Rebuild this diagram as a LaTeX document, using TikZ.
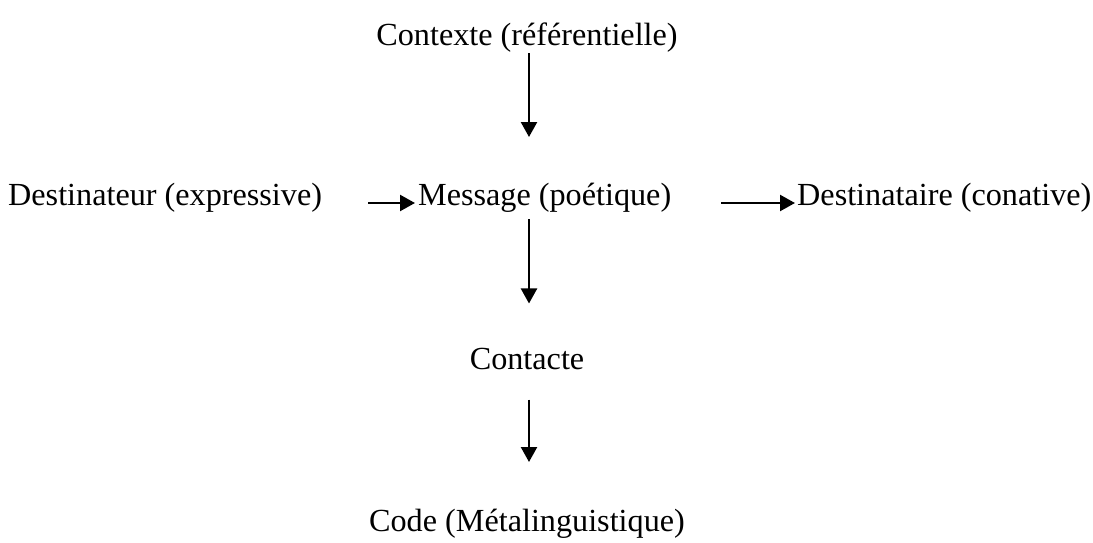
\documentclass[tikz,border=0pt]{standalone}
\usepackage{fontspec}
\setmainfont{Liberation Serif}
\usetikzlibrary{arrows.meta}
\begin{document}
\begin{tikzpicture}[x=1pt,y=-1pt,
  lbl/.style={inner sep=0pt,font=\fontsize{32.2}{38}\selectfont},
  arr/.style={line width=2.3pt,-{Triangle[length=15pt,width=16pt]}}]
\useasboundingbox (0,0) rectangle (1093,543);
\node[lbl,anchor=base] (ctx) at (527,46) {Contexte (référentielle)};
\node[lbl,anchor=base west] (dst) at (8,205) {Destinateur (expressive)};
\node[lbl,anchor=base west] (msg) at (418,205) {Message (poétique)};
\node[lbl,anchor=base west] (dta) at (797,205) {Destinataire (conative)};
\node[lbl,anchor=base] (cta) at (527,369) {Contacte};
\node[lbl,anchor=base] (code) at (527,531) {Code (Métalinguistique)};
\draw[arr] ([xshift=2pt]ctx.south) -- ([xshift=2pt]ctx.south |- 0,137);
\draw[arr,shorten <=46pt,shorten >=3pt] ([yshift=2pt]dst.base east) -- ([yshift=2pt]msg.base west);
\draw[arr,shorten <=50pt,shorten >=2pt] ([yshift=2pt]msg.base east) -- ([yshift=2pt]dta.base west);
\draw[arr,shorten <=7pt,shorten >=44pt] ([xshift=2pt]cta |- msg.south) -- ([xshift=2pt]cta.north);
\draw[arr,shorten <=30pt] ([xshift=2pt]cta.south) -- ([xshift=2pt]cta.south |- 0,462);
\end{tikzpicture}
\end{document}
